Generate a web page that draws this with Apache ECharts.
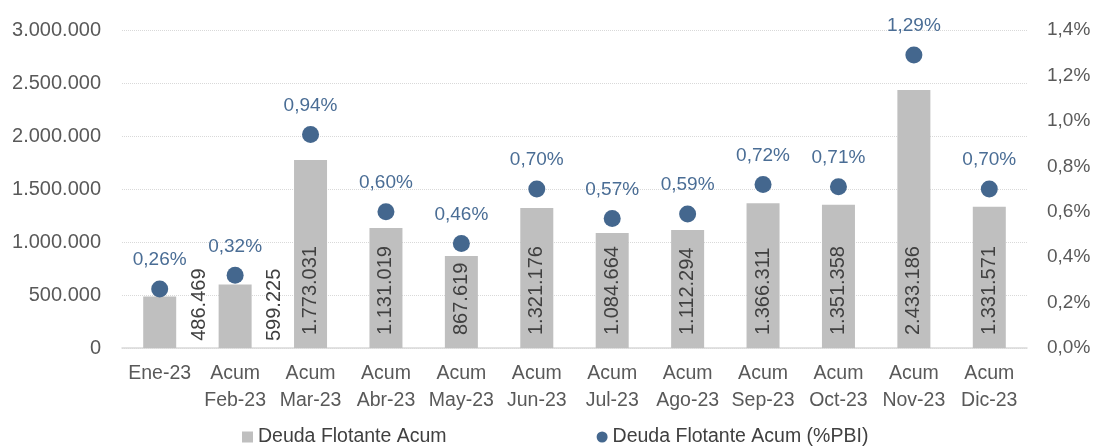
<!DOCTYPE html>
<html>
<head>
<meta charset="utf-8">
<script src="https://cdn.jsdelivr.net/npm/echarts@6/dist/echarts.min.js"></script>
<style>
  html, body { margin: 0; padding: 0; background: #fff; }
  #main { width: 1095px; height: 446px; }
</style>
</head>
<body>
<div id="main"></div>
<script>
// datos
var categorias = ['Ene-23', 'Acum\nFeb-23', 'Acum\nMar-23', 'Acum\nAbr-23', 'Acum\nMay-23', 'Acum\nJun-23',
  'Acum\nJul-23', 'Acum\nAgo-23', 'Acum\nSep-23', 'Acum\nOct-23', 'Acum\nNov-23', 'Acum\nDic-23'];
var deudaAcum = [486469, 599225, 1773031, 1131019, 867619, 1321176, 1084664, 1112294, 1366311, 1351358, 2433186, 1331571];
var deudaPbi = [0.26, 0.32, 0.94, 0.60, 0.46, 0.70, 0.57, 0.59, 0.72, 0.71, 1.29, 0.70];
var ticksIzq = [0, 500000, 1000000, 1500000, 2000000, 2500000, 3000000];
var ticksDer = [0, 0.2, 0.4, 0.6, 0.8, 1.0, 1.2, 1.4];
// las dos primeras etiquetas van fuera de la barra
var fuera = { 0: ['170%', '86%'], 1: ['168%', '89%'] };

var fuente = 'Liberation Sans';

function miles(v) {
  return String(v).replace(/\B(?=(\d{3})+(?!\d))/g, '.');
}

var barras = deudaAcum.map(function (v, i) {
  if (fuera[i]) {
    return { value: v, label: { position: fuera[i] } };
  }
  return v;
});

var myChart = echarts.init(document.getElementById('main'));
myChart.setOption({
  animation: false,
  textStyle: { fontFamily: fuente },
  grid: { left: 122, right: 68, top: 30, bottom: 98 },
  legend: {
    bottom: -6,
    left: 237,
    itemGap: 150,
    itemWidth: 11,
    itemHeight: 11,
    textStyle: { fontSize: 19.5, color: '#404040', fontFamily: fuente },
    data: [
      { name: 'Deuda Flotante Acum', icon: 'rect' },
      { name: 'Deuda Flotante Acum (%PBI)', icon: 'circle' }
    ]
  },
  xAxis: {
    type: 'category',
    data: categorias,
    axisTick: { show: false },
    axisLine: { lineStyle: { color: '#d9d9d9', width: 1.5 } },
    axisLabel: { color: '#595959', fontSize: 19.5, lineHeight: 27, margin: 12, interval: 0 }
  },
  yAxis: [
    {
      type: 'value',
      min: ticksIzq[0],
      max: ticksIzq[ticksIzq.length - 1],
      interval: 500000,
      axisLine: { show: false },
      axisTick: { show: false },
      splitLine: { lineStyle: { color: '#d9d9d9', type: 'dotted' } },
      axisLabel: { color: '#595959', fontSize: 20, margin: 21, formatter: function (v) { return miles(v); } }
    },
    {
      type: 'value',
      min: ticksDer[0],
      max: ticksDer[ticksDer.length - 1],
      interval: 0.2,
      axisLine: { show: false },
      axisTick: { show: false },
      splitLine: { show: false },
      axisLabel: { color: '#595959', fontSize: 19, margin: 20,
        formatter: function (v) { return v.toFixed(1).replace('.', ',') + '%'; } }
    }
  ],
  series: [
    {
      name: 'Deuda Flotante Acum',
      type: 'bar',
      data: barras,
      barWidth: 33,
      itemStyle: { color: '#bfbfbf' },
      label: {
        show: true,
        position: 'insideBottom',
        distance: 13,
        rotate: 90,
        align: 'left',
        verticalAlign: 'middle',
        color: '#404040',
        fontSize: 20,
        formatter: function (p) { return miles(p.value); }
      }
    },
    {
      name: 'Deuda Flotante Acum (%PBI)',
      type: 'scatter',
      yAxisIndex: 1,
      data: deudaPbi,
      symbolSize: 17,
      itemStyle: { color: '#44678e', opacity: 1 },
      label: {
        show: true,
        position: 'top',
        distance: 11,
        color: '#4a6d95',
        fontSize: 19,
        formatter: function (p) { return p.value.toFixed(2).replace('.', ',') + '%'; }
      }
    }
  ]
});
</script>
</body>
</html>
